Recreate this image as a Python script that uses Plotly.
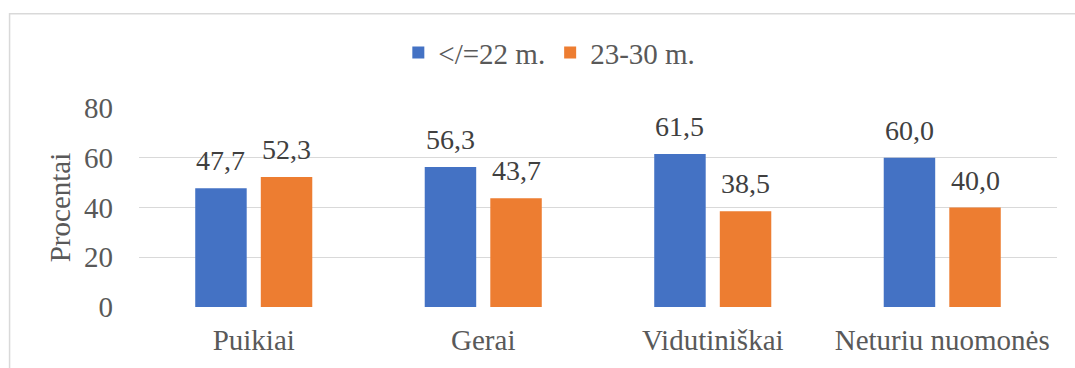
import plotly.graph_objects as go

categories = ["Puikiai", "Gerai", "Vidutiniškai", "Neturiu nuomonės"]
series_names = ["</=22 m.", "23-30 m."]
values_young = [47.7, 56.3, 61.5, 60.0]
values_older = [52.3, 43.7, 38.5, 40.0]
y_ticks = [0, 20, 40, 60, 80]

colors = ["#4472C4", "#ED7D31"]
font_family = "Liberation Serif"
tick_color = "#595959"
label_color = "#404040"

fig = go.Figure()
for name, vals, col in zip(series_names, [values_young, values_older], colors):
    fig.add_trace(go.Bar(
        x=categories, y=vals, name=name,
        marker=dict(color=col, line=dict(width=0)),
    ))

# value labels above each bar
for i, vals in enumerate([values_young, values_older]):
    shift = -32.8 if i == 0 else 32.8
    for cat, v in zip(categories, vals):
        fig.add_annotation(
            x=cat, y=v, xref="x", yref="y",
            text=f"{v:.1f}".replace(".", ","),
            showarrow=False, yanchor="bottom", xanchor="center",
            xshift=shift, yshift=10,
            font=dict(family=font_family, size=28, color=label_color),
        )

# outer chart frame
fig.add_shape(
    type="rect", xref="paper", yref="paper",
    x0=-0.141, x1=1.2, y0=-0.6, y1=1.473,
    line=dict(color="#d9d9d9", width=1.5), fillcolor="rgba(0,0,0,0)",
    layer="below",
)

fig.update_layout(
    width=1075, height=368,
    margin=dict(l=139, r=18, t=108, b=61),
    paper_bgcolor="white", plot_bgcolor="white",
    barmode="group", bargap=0.4286, bargroupgap=0.215,
    font=dict(family=font_family, size=29, color=tick_color),
    showlegend=True,
    legend=dict(
        orientation="h", xref="container", yref="container",
        x=0.511, xanchor="center", y=0.857, yanchor="middle",
        font=dict(family=font_family, size=29, color=tick_color),
        itemwidth=30, traceorder="normal",
    ),
    xaxis=dict(
        showgrid=False, showline=False, ticks="",
        ticklabelstandoff=13,
        tickfont=dict(family=font_family, size=29, color=tick_color),
    ),
    yaxis=dict(
        range=[0, 80], tickvals=y_ticks, showgrid=True,
        gridcolor="#d9d9d9", gridwidth=1, zeroline=False,
        showline=False, ticks="", ticklabelstandoff=25,
        tickfont=dict(family=font_family, size=29, color=tick_color),
        title=dict(text="Procentai", standoff=4,
                   font=dict(family=font_family, size=29, color=tick_color)),
    ),
)

fig.write_html("out.html")
